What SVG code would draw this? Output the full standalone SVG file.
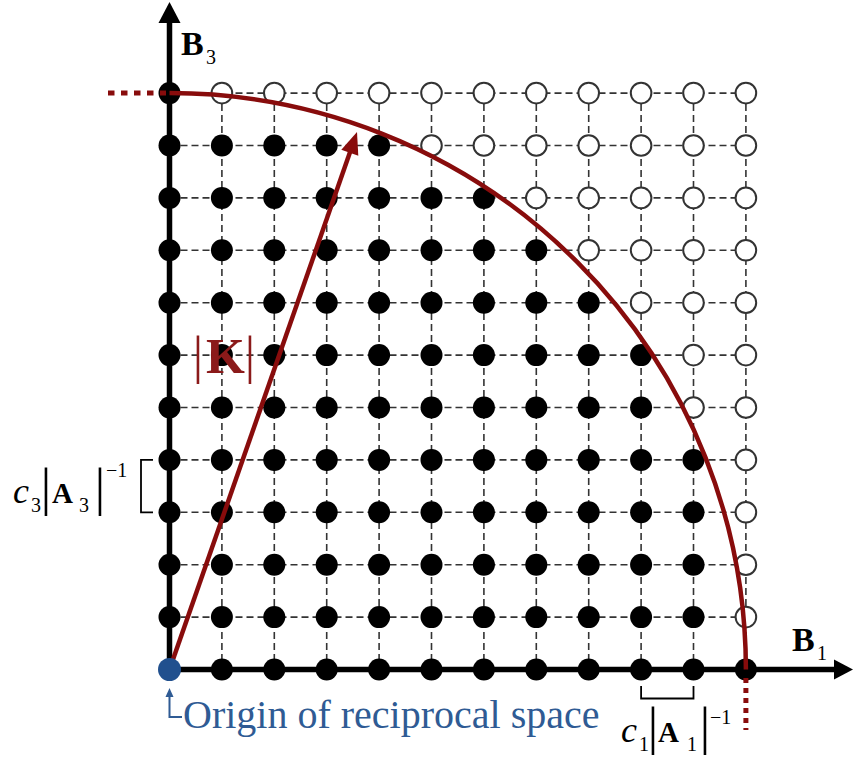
<svg xmlns="http://www.w3.org/2000/svg" width="854" height="761" viewBox="0 0 854 761">
<defs>
<style>
.grid{stroke:#333;stroke-width:1.6;stroke-dasharray:7 4;fill:none}
.axis{stroke:#000;stroke-width:5.5;fill:none}
.f{fill:#000}
.o{fill:#fff;stroke:#333;stroke-width:2}
.red{stroke:#880c0c;fill:none;stroke-width:4.5}
.dot{stroke:#880c0c;fill:none;stroke-width:5}
.brk{stroke:#000;stroke-width:1.8;fill:none}
text{font-family:"Liberation Serif","Times New Roman",serif}
.lbl{fill:#000}
.bar{font-size:52px;font-weight:normal;font-style:normal}
.sub{font-size:20px;font-weight:normal;font-style:normal}
</style>
</defs>
<rect width="854" height="761" fill="#fff"/>
<g id="grid">
<path class="grid" d="M169.5,93.1H745.9M169.5,145.5H745.9M169.5,197.9H745.9M169.5,250.3H745.9M169.5,302.7H745.9M169.5,355.1H745.9M169.5,407.5H745.9M169.5,459.9H745.9M169.5,512.3H745.9M169.5,564.7H745.9M169.5,617.1H745.9"/>
<path class="grid" d="M221.9,93.1V669.5M274.3,93.1V669.5M326.7,93.1V669.5M379.1,93.1V669.5M431.5,93.1V669.5M483.9,93.1V669.5M536.3,93.1V669.5M588.7,93.1V669.5M641.1,93.1V669.5M693.5,93.1V669.5M745.9,93.1V669.5"/>
</g>
<g id="axes">
<path class="axis" d="M169.5,669.5V22"/>
<polygon points="169.5,2 158.5,23 180.5,23" fill="#000"/>
<path class="axis" d="M169.5,669.5H836"/>
<polygon points="853,669.5 834,659.5 834,679.5" fill="#000"/>
</g>
<g id="lattice">
<g id="row11"><circle class="f" cx="169.5" cy="93.1" r="11"/><circle class="o" cx="221.9" cy="93.1" r="10.3"/><circle class="o" cx="274.3" cy="93.1" r="10.3"/><circle class="o" cx="326.7" cy="93.1" r="10.3"/><circle class="o" cx="379.1" cy="93.1" r="10.3"/><circle class="o" cx="431.5" cy="93.1" r="10.3"/><circle class="o" cx="483.9" cy="93.1" r="10.3"/><circle class="o" cx="536.3" cy="93.1" r="10.3"/><circle class="o" cx="588.7" cy="93.1" r="10.3"/><circle class="o" cx="641.1" cy="93.1" r="10.3"/><circle class="o" cx="693.5" cy="93.1" r="10.3"/><circle class="o" cx="745.9" cy="93.1" r="10.3"/></g>
<g id="row10"><circle class="f" cx="169.5" cy="145.5" r="11"/><circle class="f" cx="221.9" cy="145.5" r="11"/><circle class="f" cx="274.3" cy="145.5" r="11"/><circle class="f" cx="326.7" cy="145.5" r="11"/><circle class="f" cx="379.1" cy="145.5" r="11"/><circle class="o" cx="431.5" cy="145.5" r="10.3"/><circle class="o" cx="483.9" cy="145.5" r="10.3"/><circle class="o" cx="536.3" cy="145.5" r="10.3"/><circle class="o" cx="588.7" cy="145.5" r="10.3"/><circle class="o" cx="641.1" cy="145.5" r="10.3"/><circle class="o" cx="693.5" cy="145.5" r="10.3"/><circle class="o" cx="745.9" cy="145.5" r="10.3"/></g>
<g id="row9"><circle class="f" cx="169.5" cy="197.9" r="11"/><circle class="f" cx="221.9" cy="197.9" r="11"/><circle class="f" cx="274.3" cy="197.9" r="11"/><circle class="f" cx="326.7" cy="197.9" r="11"/><circle class="f" cx="379.1" cy="197.9" r="11"/><circle class="f" cx="431.5" cy="197.9" r="11"/><circle class="f" cx="483.9" cy="197.9" r="11"/><circle class="o" cx="536.3" cy="197.9" r="10.3"/><circle class="o" cx="588.7" cy="197.9" r="10.3"/><circle class="o" cx="641.1" cy="197.9" r="10.3"/><circle class="o" cx="693.5" cy="197.9" r="10.3"/><circle class="o" cx="745.9" cy="197.9" r="10.3"/></g>
<g id="row8"><circle class="f" cx="169.5" cy="250.3" r="11"/><circle class="f" cx="221.9" cy="250.3" r="11"/><circle class="f" cx="274.3" cy="250.3" r="11"/><circle class="f" cx="326.7" cy="250.3" r="11"/><circle class="f" cx="379.1" cy="250.3" r="11"/><circle class="f" cx="431.5" cy="250.3" r="11"/><circle class="f" cx="483.9" cy="250.3" r="11"/><circle class="f" cx="536.3" cy="250.3" r="11"/><circle class="o" cx="588.7" cy="250.3" r="10.3"/><circle class="o" cx="641.1" cy="250.3" r="10.3"/><circle class="o" cx="693.5" cy="250.3" r="10.3"/><circle class="o" cx="745.9" cy="250.3" r="10.3"/></g>
<g id="row7"><circle class="f" cx="169.5" cy="302.7" r="11"/><circle class="f" cx="221.9" cy="302.7" r="11"/><circle class="f" cx="274.3" cy="302.7" r="11"/><circle class="f" cx="326.7" cy="302.7" r="11"/><circle class="f" cx="379.1" cy="302.7" r="11"/><circle class="f" cx="431.5" cy="302.7" r="11"/><circle class="f" cx="483.9" cy="302.7" r="11"/><circle class="f" cx="536.3" cy="302.7" r="11"/><circle class="f" cx="588.7" cy="302.7" r="11"/><circle class="o" cx="641.1" cy="302.7" r="10.3"/><circle class="o" cx="693.5" cy="302.7" r="10.3"/><circle class="o" cx="745.9" cy="302.7" r="10.3"/></g>
<g id="row6"><circle class="f" cx="169.5" cy="355.1" r="11"/><circle class="f" cx="221.9" cy="355.1" r="11"/><circle class="f" cx="274.3" cy="355.1" r="11"/><circle class="f" cx="326.7" cy="355.1" r="11"/><circle class="f" cx="379.1" cy="355.1" r="11"/><circle class="f" cx="431.5" cy="355.1" r="11"/><circle class="f" cx="483.9" cy="355.1" r="11"/><circle class="f" cx="536.3" cy="355.1" r="11"/><circle class="f" cx="588.7" cy="355.1" r="11"/><circle class="f" cx="641.1" cy="355.1" r="11"/><circle class="o" cx="693.5" cy="355.1" r="10.3"/><circle class="o" cx="745.9" cy="355.1" r="10.3"/></g>
<g id="row5"><circle class="f" cx="169.5" cy="407.5" r="11"/><circle class="f" cx="221.9" cy="407.5" r="11"/><circle class="f" cx="274.3" cy="407.5" r="11"/><circle class="f" cx="326.7" cy="407.5" r="11"/><circle class="f" cx="379.1" cy="407.5" r="11"/><circle class="f" cx="431.5" cy="407.5" r="11"/><circle class="f" cx="483.9" cy="407.5" r="11"/><circle class="f" cx="536.3" cy="407.5" r="11"/><circle class="f" cx="588.7" cy="407.5" r="11"/><circle class="f" cx="641.1" cy="407.5" r="11"/><circle class="o" cx="693.5" cy="407.5" r="10.3"/><circle class="o" cx="745.9" cy="407.5" r="10.3"/></g>
<g id="row4"><circle class="f" cx="169.5" cy="459.9" r="11"/><circle class="f" cx="221.9" cy="459.9" r="11"/><circle class="f" cx="274.3" cy="459.9" r="11"/><circle class="f" cx="326.7" cy="459.9" r="11"/><circle class="f" cx="379.1" cy="459.9" r="11"/><circle class="f" cx="431.5" cy="459.9" r="11"/><circle class="f" cx="483.9" cy="459.9" r="11"/><circle class="f" cx="536.3" cy="459.9" r="11"/><circle class="f" cx="588.7" cy="459.9" r="11"/><circle class="f" cx="641.1" cy="459.9" r="11"/><circle class="f" cx="693.5" cy="459.9" r="11"/><circle class="o" cx="745.9" cy="459.9" r="10.3"/></g>
<g id="row3"><circle class="f" cx="169.5" cy="512.3" r="11"/><circle class="f" cx="221.9" cy="512.3" r="11"/><circle class="f" cx="274.3" cy="512.3" r="11"/><circle class="f" cx="326.7" cy="512.3" r="11"/><circle class="f" cx="379.1" cy="512.3" r="11"/><circle class="f" cx="431.5" cy="512.3" r="11"/><circle class="f" cx="483.9" cy="512.3" r="11"/><circle class="f" cx="536.3" cy="512.3" r="11"/><circle class="f" cx="588.7" cy="512.3" r="11"/><circle class="f" cx="641.1" cy="512.3" r="11"/><circle class="f" cx="693.5" cy="512.3" r="11"/><circle class="o" cx="745.9" cy="512.3" r="10.3"/></g>
<g id="row2"><circle class="f" cx="169.5" cy="564.7" r="11"/><circle class="f" cx="221.9" cy="564.7" r="11"/><circle class="f" cx="274.3" cy="564.7" r="11"/><circle class="f" cx="326.7" cy="564.7" r="11"/><circle class="f" cx="379.1" cy="564.7" r="11"/><circle class="f" cx="431.5" cy="564.7" r="11"/><circle class="f" cx="483.9" cy="564.7" r="11"/><circle class="f" cx="536.3" cy="564.7" r="11"/><circle class="f" cx="588.7" cy="564.7" r="11"/><circle class="f" cx="641.1" cy="564.7" r="11"/><circle class="f" cx="693.5" cy="564.7" r="11"/><circle class="o" cx="745.9" cy="564.7" r="10.3"/></g>
<g id="row1"><circle class="f" cx="169.5" cy="617.1" r="11"/><circle class="f" cx="221.9" cy="617.1" r="11"/><circle class="f" cx="274.3" cy="617.1" r="11"/><circle class="f" cx="326.7" cy="617.1" r="11"/><circle class="f" cx="379.1" cy="617.1" r="11"/><circle class="f" cx="431.5" cy="617.1" r="11"/><circle class="f" cx="483.9" cy="617.1" r="11"/><circle class="f" cx="536.3" cy="617.1" r="11"/><circle class="f" cx="588.7" cy="617.1" r="11"/><circle class="f" cx="641.1" cy="617.1" r="11"/><circle class="f" cx="693.5" cy="617.1" r="11"/><circle class="o" cx="745.9" cy="617.1" r="10.3"/></g>
<g id="row0"><circle class="f" cx="221.9" cy="669.5" r="11"/><circle class="f" cx="274.3" cy="669.5" r="11"/><circle class="f" cx="326.7" cy="669.5" r="11"/><circle class="f" cx="379.1" cy="669.5" r="11"/><circle class="f" cx="431.5" cy="669.5" r="11"/><circle class="f" cx="483.9" cy="669.5" r="11"/><circle class="f" cx="536.3" cy="669.5" r="11"/><circle class="f" cx="588.7" cy="669.5" r="11"/><circle class="f" cx="641.1" cy="669.5" r="11"/><circle class="f" cx="693.5" cy="669.5" r="11"/><circle class="f" cx="745.9" cy="669.5" r="11"/></g>
</g>
<g id="sphere">
<path class="red" d="M169.5,93.1A576.4,576.4 0 0 1 745.9,669.5"/>
<path class="dot" d="M108,93.1H166" stroke-dasharray="6.5 6.5"/>
<path class="dot" d="M745.9,678V730" stroke-dasharray="5 5"/>
</g>
<g id="k-vector">
<path class="red" d="M169.5,669.5L350.5,150.8"/>
<polygon points="357,132 358.3,155.7 341.3,149.8" fill="#880c0c"/>
</g>
<g id="origin">
<circle cx="169.5" cy="669.5" r="11.5" fill="#21508e"/>
<path d="M169.5,694V717H182" stroke="#2f5b94" stroke-width="2" fill="none"/>
<polygon points="169.5,688 165.5,697 173.5,697" fill="#2f5b94"/>
<text x="183" y="728" font-size="40" fill="#2f5b94">Origin of reciprocal space</text>
</g>
<g id="labels">
<text class="lbl" y="55"><tspan x="181" font-size="34" font-weight="bold">B</tspan><tspan class="sub" x="206" y="64">3</tspan></text>
<text class="lbl" y="651"><tspan x="792" font-size="34" font-weight="bold">B</tspan><tspan class="sub" x="817" y="660">1</tspan></text>
<text fill="#8b1a1a" y="373"><tspan class="bar" x="192.8">|</tspan><tspan x="206" font-size="50" font-weight="bold">K</tspan><tspan class="bar" x="244.8" y="373">|</tspan></text>
</g>
<g id="spacing3">
<path class="brk" d="M153,459.9H141V512.3H153"/>
<text class="lbl" y="503"><tspan x="13" font-size="36" font-style="italic">c</tspan><tspan class="sub" x="31" y="512">3</tspan><tspan class="bar" x="40.8" y="505">|</tspan><tspan x="52" y="503" font-size="29" font-weight="bold">A</tspan><tspan class="sub" x="79" y="512">3</tspan><tspan class="bar" x="94.8" y="505">|</tspan><tspan class="sub" x="106" y="477">−1</tspan></text>
</g>
<g id="spacing1">
<path class="brk" d="M641.1,686V698.5H693.5V686"/>
<text class="lbl" y="742"><tspan x="621" font-size="36" font-style="italic">c</tspan><tspan class="sub" x="639" y="751">1</tspan><tspan class="bar" x="647.8" y="744">|</tspan><tspan x="658" y="742" font-size="29" font-weight="bold">A</tspan><tspan class="sub" x="687" y="751">1</tspan><tspan class="bar" x="699.8" y="744">|</tspan><tspan class="sub" x="710" y="724">−1</tspan></text>
</g>
</svg>
